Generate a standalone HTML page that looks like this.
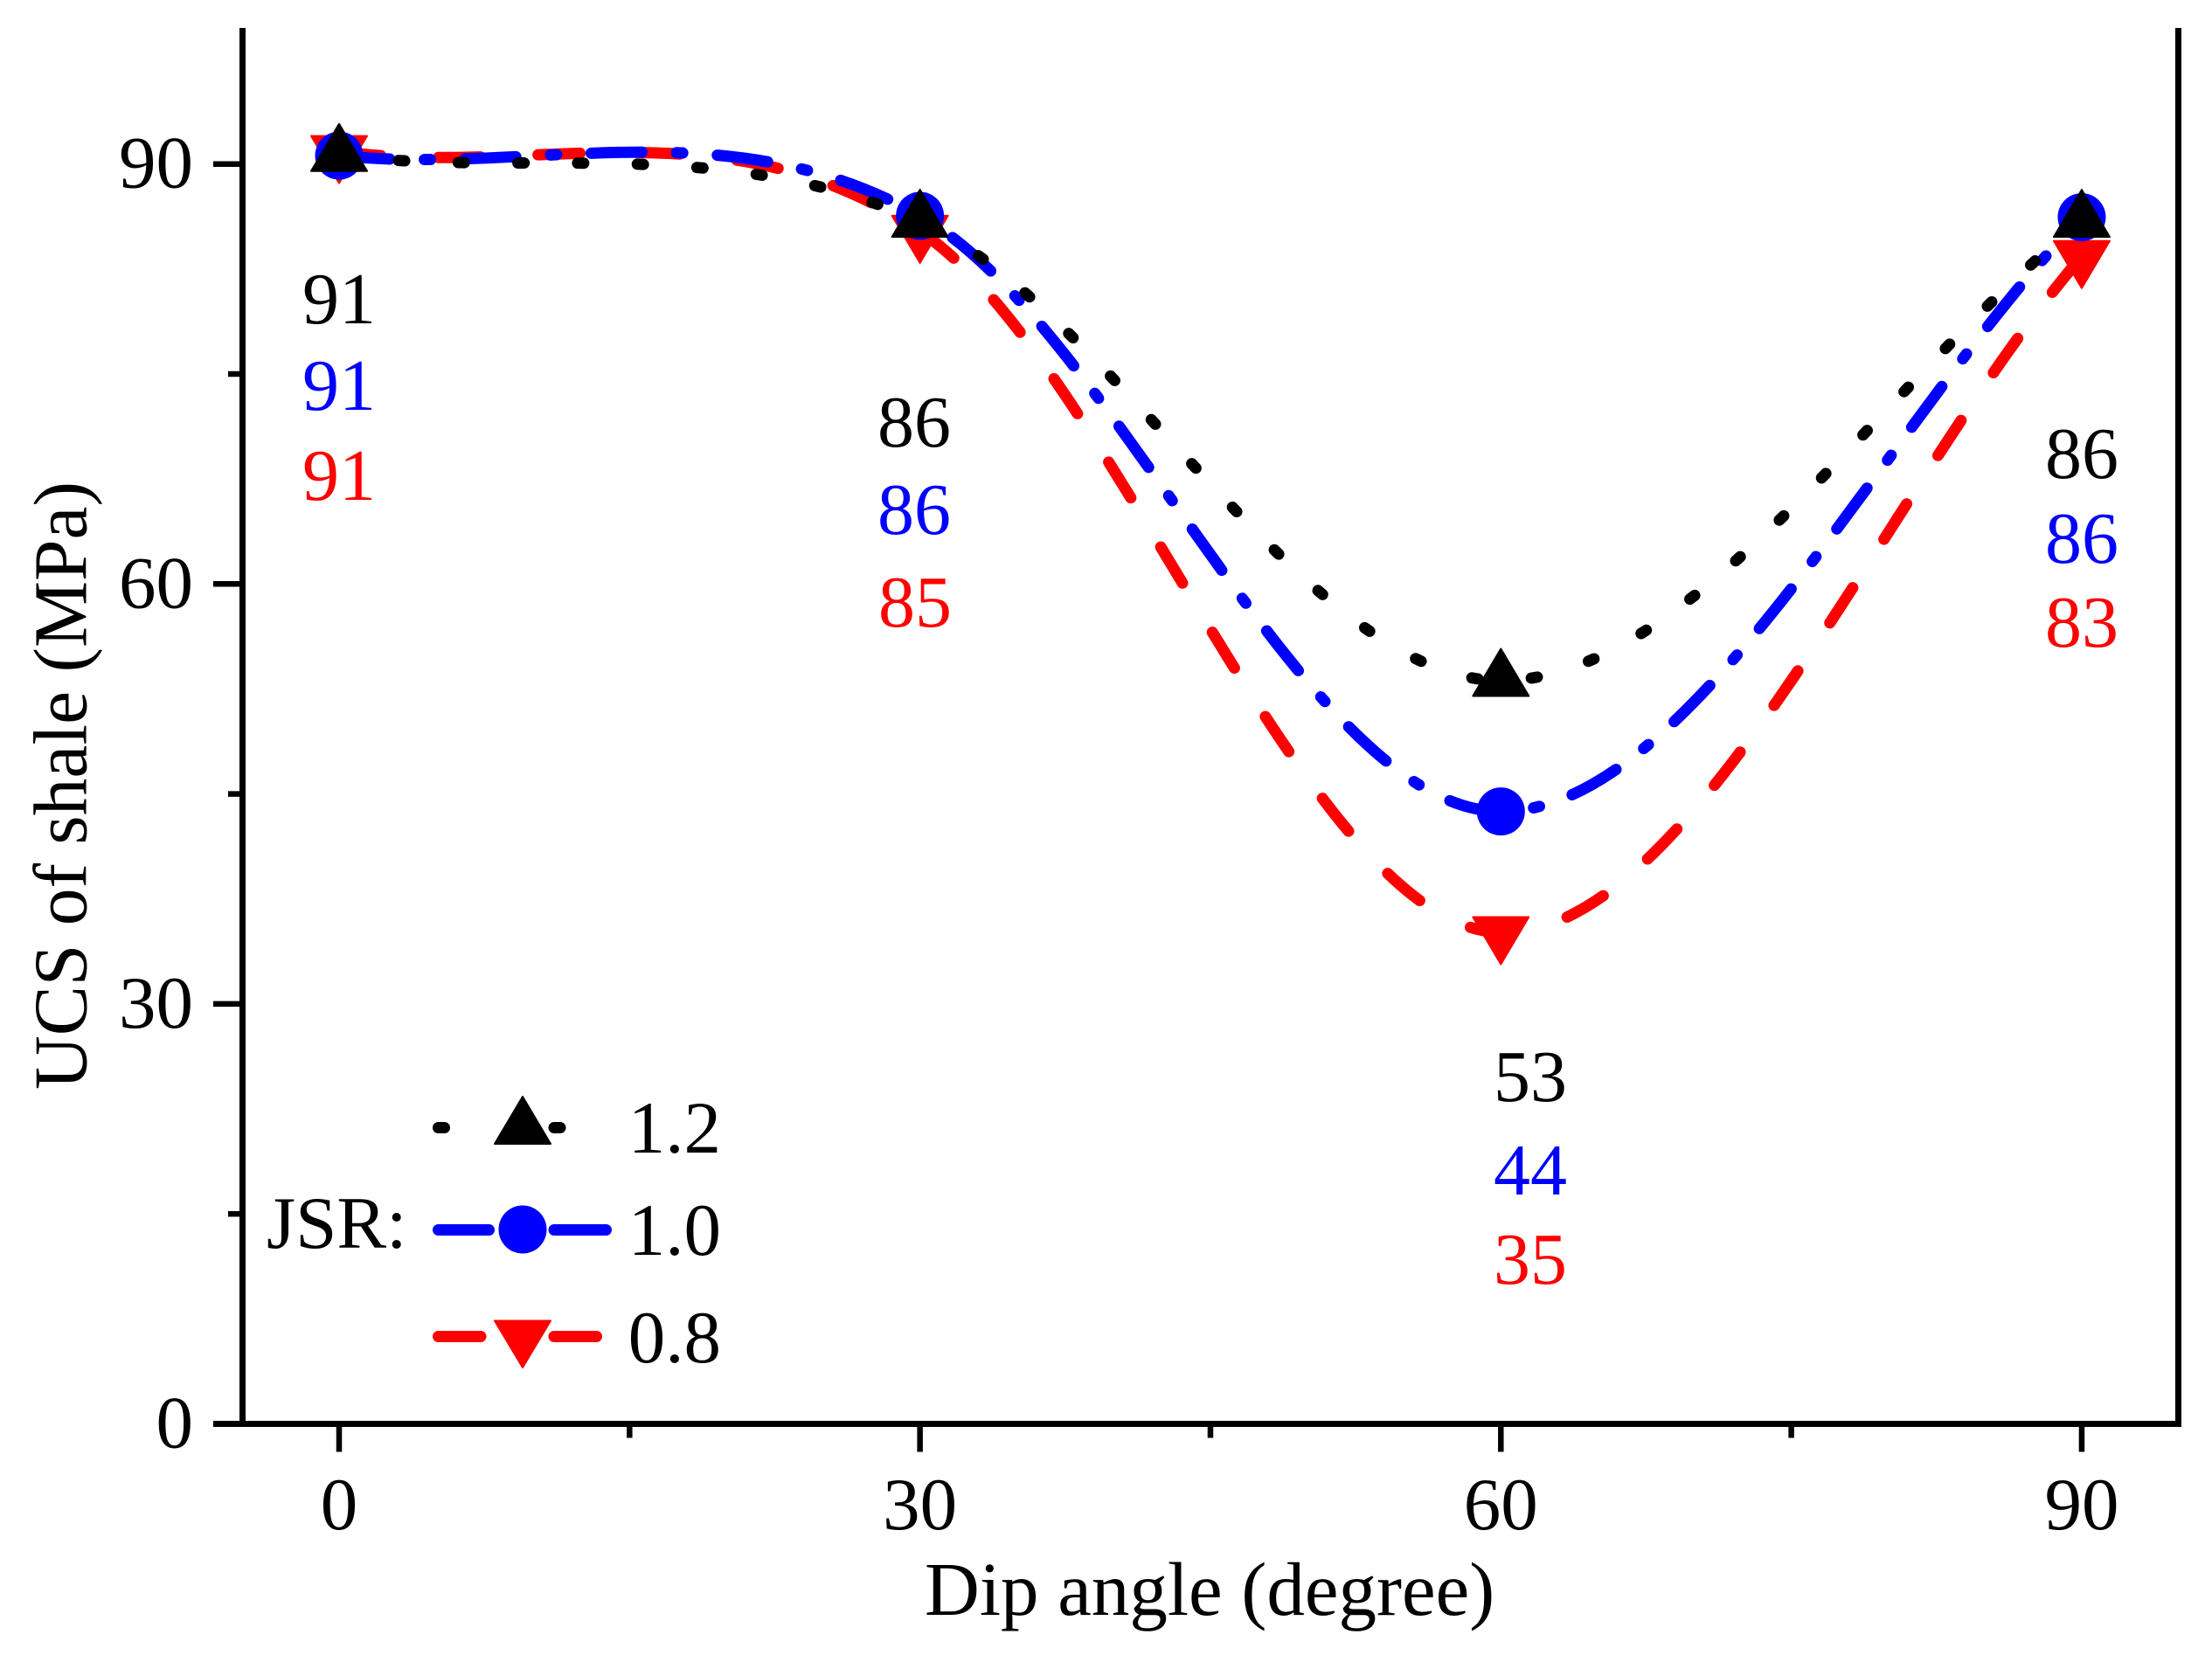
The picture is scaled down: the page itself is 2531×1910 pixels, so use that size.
<!DOCTYPE html>
<html lang="en">
<head>
<meta charset="utf-8">
<title>UCS of shale vs dip angle</title>
<style>
html,body{margin:0;padding:0;background:#fff;}
svg{display:block;}
text{font-family:"Liberation Serif","Times New Roman",serif;font-size:85px;fill:#000;}
text.title{font-size:87px;}
text.value{font-size:84px;}
</style>
</head>
<body>
<svg id="chart" xmlns="http://www.w3.org/2000/svg" width="2531" height="1910" viewBox="0 0 2531 1910">
  <rect x="0" y="0" width="2531" height="1910" fill="#fff"/>

  <g id="axes">
    <line x1="277.5" y1="32" x2="277.5" y2="1633" stroke="#000" stroke-width="7"/>
    <line x1="2492.5" y1="32" x2="2492.5" y2="1633" stroke="#000" stroke-width="7"/>
    <line x1="244" y1="1629.5" x2="2496" y2="1629.5" stroke="#000" stroke-width="7"/>
  </g>
  <g id="ticks"></g>
  <g id="series"></g>

  <text class="title" x="1058" y="1848">Dip angle (degree)</text>
  <text class="title" transform="translate(98.5,1247) rotate(-90)" textLength="696" lengthAdjust="spacingAndGlyphs">UCS of shale (MPa)</text>

  <g text-anchor="middle">
    <text class="value" x="388" y="370" style="fill:#000">91</text>
    <text class="value" x="388" y="469" style="fill:#00f">91</text>
    <text class="value" x="388" y="572" style="fill:#f00">91</text>
  </g>
  <g text-anchor="middle">
    <text class="value" x="1046" y="511" style="fill:#000">86</text>
    <text class="value" x="1046" y="611" style="fill:#00f">86</text>
    <text class="value" x="1047" y="717" style="fill:#f00">85</text>
  </g>
  <g text-anchor="middle">
    <text class="value" x="1751" y="1260" style="fill:#000">53</text>
    <text class="value" x="1751" y="1367" style="fill:#00f">44</text>
    <text class="value" x="1751" y="1469" style="fill:#f00">35</text>
  </g>
  <g text-anchor="middle">
    <text class="value" x="2382" y="547" style="fill:#000">86</text>
    <text class="value" x="2382" y="644" style="fill:#00f">86</text>
    <text class="value" x="2382" y="740" style="fill:#f00">83</text>
  </g>

  <g id="legend">
    <text x="305" y="1428">JSR:</text>
    <g>
      <line x1="501.5" y1="1290.5" x2="508.5" y2="1290.5" stroke="#000" stroke-width="13" stroke-linecap="round"/>
      <line x1="634" y1="1290.5" x2="641" y2="1290.5" stroke="#000" stroke-width="13" stroke-linecap="round"/>
      <polygon points="598,1255 630,1309 566,1309" fill="#000" stroke="#000" stroke-width="2" stroke-linejoin="round"/>
      <text x="825" y="1319" text-anchor="end">1.2</text>
    </g>
    <g>
      <line x1="501.5" y1="1407.5" x2="559.5" y2="1407.5" stroke="#00f" stroke-width="13" stroke-linecap="round"/>
      <line x1="634" y1="1407.5" x2="693.5" y2="1407.5" stroke="#00f" stroke-width="13" stroke-linecap="round"/>
      <circle cx="598" cy="1407" r="27.5" fill="#00f"/>
      <text x="825" y="1436" text-anchor="end">1.0</text>
    </g>
    <g>
      <line x1="501.5" y1="1529.5" x2="550" y2="1529.5" stroke="#f00" stroke-width="13" stroke-linecap="round"/>
      <line x1="634" y1="1529.5" x2="682.5" y2="1529.5" stroke="#f00" stroke-width="13" stroke-linecap="round"/>
      <polygon points="566,1511.5 630,1511.5 598,1565" fill="#f00" stroke="#f00" stroke-width="2" stroke-linejoin="round"/>
      <text x="825" y="1559" text-anchor="end">0.8</text>
    </g>
  </g>
</svg>

<script>
var dipAngles = [0, 30, 60, 90];
var ucsJsr08 = [90.9, 85.2, 35.1, 83.4];
var ucsJsr10 = [90.6, 86.3, 43.75, 86.2];
var ucsJsr12 = [90.6, 85.9, 53.1, 85.9];
var xMajorTicks = [0, 30, 60, 90];
var xMinorTicks = [15, 45, 75];
var yMajorTicks = [0, 30, 60, 90];
var yMinorTicks = [15, 45, 75];

var NS = 'http://www.w3.org/2000/svg';
function xScale(v) { return 388 + v * 22.155; }
function yScale(v) { return 1629.5 - v * 16.02; }

function make(tag, attrs, parent) {
  var el = document.createElementNS(NS, tag);
  for (var k in attrs) { el.setAttribute(k, attrs[k]); }
  parent.appendChild(el);
  return el;
}

var tickGroup = document.getElementById('ticks');
xMajorTicks.forEach(function (v) {
  var t = make('line', {x1: xScale(v), x2: xScale(v), y1: 1633, y2: 1661.5, stroke: '#000', 'stroke-width': 6.5}, tickGroup);
  
  
  var l = make('text', {x: xScale(v), y: 1750, 'text-anchor': 'middle'}, tickGroup);
  l.textContent = String(v);
  
  
});
xMinorTicks.forEach(function (v) {
  var t = make('line', {x1: xScale(v), x2: xScale(v), y1: 1633, y2: 1645.5, stroke: '#000', 'stroke-width': 6.5}, tickGroup);
  
  
});
yMajorTicks.forEach(function (v) {
  var t = make('line', {x1: 244, x2: 274, y1: yScale(v), y2: yScale(v), stroke: '#000', 'stroke-width': 6.5}, tickGroup);
  
  
  var l = make('text', {x: 221, y: yScale(v) + 27, 'text-anchor': 'end'}, tickGroup);
  l.textContent = String(v);
  
  
});
yMinorTicks.forEach(function (v) {
  var t = make('line', {x1: 261, x2: 274, y1: yScale(v), y2: yScale(v), stroke: '#000', 'stroke-width': 6.5}, tickGroup);
  
  
});

function curvePath(xs, ys) {
  var px = xs.map(xScale), py = ys.map(yScale), n = px.length, sx = [], sy = [], i;
  for (i = 0; i < n; i++) {
    var a = Math.max(i - 1, 0), b = Math.min(i + 1, n - 1), span = (b - a);
    sx[i] = (px[b] - px[a]) / span;
    sy[i] = (py[b] - py[a]) / span;
  }
  var d = 'M' + px[0] + ' ' + py[0];
  for (i = 0; i < n - 1; i++) {
    d += ' C' + (px[i] + sx[i] / 3) + ' ' + (py[i] + sy[i] / 3) + ' ' +
      (px[i + 1] - sx[i + 1] / 3) + ' ' + (py[i + 1] - sy[i + 1] / 3) + ' ' +
      px[i + 1] + ' ' + py[i + 1];
  }
  return d;
}

function upTriangle(x, y) {
  return x + ',' + (y - 36.3) + ' ' + (x + 32) + ',' + (y + 17.7) + ' ' + (x - 32) + ',' + (y + 17.7);
}
function downTriangle(x, y) {
  return (x - 32) + ',' + (y - 17.7) + ' ' + (x + 32) + ',' + (y - 17.7) + ' ' + x + ',' + (y + 36.3);
}

var seriesGroup = document.getElementById('series');

var redLine = make('path', {d: curvePath(dipAngles, ucsJsr08), fill: 'none', stroke: '#f00', 'stroke-width': 13, 'stroke-linecap': 'round', 'stroke-dasharray': '48 66'}, seriesGroup);



var blueLine = make('path', {d: curvePath(dipAngles, ucsJsr10), fill: 'none', stroke: '#00f', 'stroke-width': 13, 'stroke-linecap': 'round', 'stroke-dasharray': '58 39.7 7 39.7'}, seriesGroup);



var blackLine = make('path', {d: curvePath(dipAngles, ucsJsr12), fill: 'none', stroke: '#000', 'stroke-width': 13, 'stroke-linecap': 'round', 'stroke-dasharray': '7 61.3'}, seriesGroup);



ucsJsr08.forEach(function (v, i) {
  var m = make('polygon', {points: downTriangle(xScale(dipAngles[i]), yScale(v)), fill: '#f00', stroke: '#f00', 'stroke-width': 2, 'stroke-linejoin': 'round'}, seriesGroup);
  
  
});
ucsJsr10.forEach(function (v, i) {
  var m = make('circle', {cx: xScale(dipAngles[i]), cy: yScale(v), r: 27.5, fill: '#00f'}, seriesGroup);
  
  
});
ucsJsr12.forEach(function (v, i) {
  var m = make('polygon', {points: upTriangle(xScale(dipAngles[i]), yScale(v)), fill: '#000', stroke: '#000', 'stroke-width': 2, 'stroke-linejoin': 'round'}, seriesGroup);
  
  
});
</script>
</body>
</html>
